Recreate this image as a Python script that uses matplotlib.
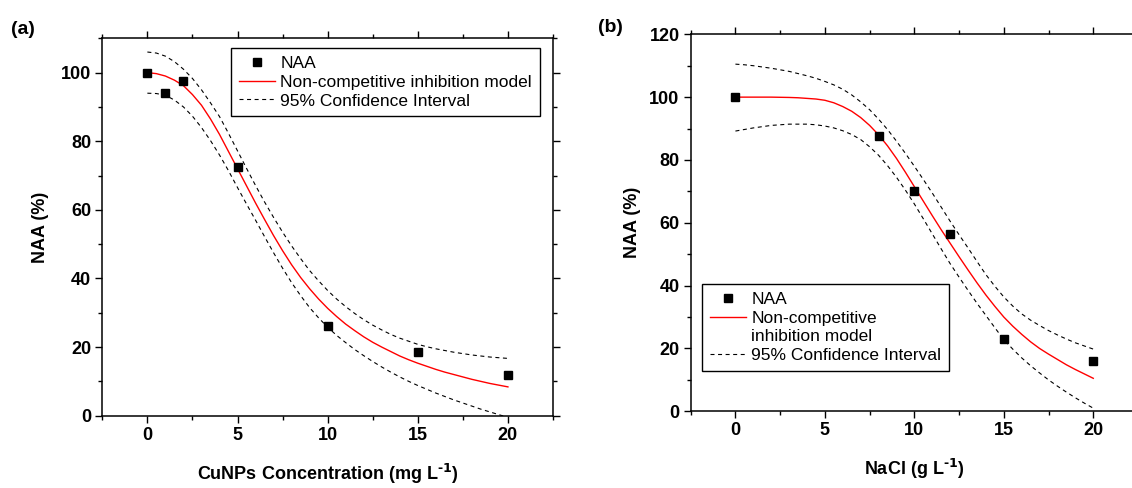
import matplotlib
matplotlib.use("Agg")
import matplotlib.pyplot as plt
from matplotlib.lines import Line2D
from matplotlib.ticker import MultipleLocator

plt.rcParams['font.family'] = ['Liberation Sans Narrow', 'Liberation Sans', 'DejaVu Sans']
plt.rcParams['font.weight'] = 'bold'
plt.rcParams['axes.labelweight'] = 'bold'
plt.rcParams['mathtext.default'] = 'regular'

# curves every 0.5 units
curve_x = [i * 0.5 for i in range(41)]

# (a) CuNPs
cu_conc = [0, 1, 2, 5, 10, 15, 20]
cu_naa = [100, 94, 97.5, 72.5, 26, 18.5, 12]
cu_fit = [100, 99.7, 99, 97.8, 96.2, 93.6, 90.5, 86.5, 82, 77, 72, 67, 62, 57.2, 52.5, 48.1,
          44, 40.3, 37, 34, 31.3, 28.9, 26.7, 24.8, 23, 21.4, 20, 18.7, 17.4, 16.3, 15.3,
          14.4, 13.5, 12.7, 12, 11.3, 10.6, 10, 9.4, 8.9, 8.4]
cu_upper = [106, 105.7, 104.8, 103.2, 101, 98.3, 95, 91.2, 87.2, 82.3, 77.2, 72.1, 67.1, 62.3,
            57.8, 53.5, 49.5, 45.8, 42.3, 39.3, 36.5, 34, 31.8, 29.8, 28, 26.4, 25, 23.7,
            22.6, 21.7, 20.8, 20.1, 19.5, 19, 18.5, 18.1, 17.7, 17.4, 17.1, 16.9, 16.7]
cu_lower = [94, 93.9, 93.4, 92, 90, 87.3, 84, 80.2, 76, 71.4, 66.5, 61.7, 57, 52.2, 47.5, 43,
            38.8, 35, 31.5, 28.5, 25.8, 23.4, 21.3, 19.3, 17.5, 15.8, 14.2, 12.7, 11.3, 10,
            8.8, 7.7, 6.6, 5.6, 4.6, 3.7, 2.8, 1.9, 1.1, 0.3, -0.5]

# (b) NaCl
na_conc = [0, 8, 10, 12, 15, 20]
na_naa = [100, 87.5, 70, 56.5, 23, 16]
na_fit = [100, 100, 100, 100, 100, 99.95, 99.9, 99.8, 99.6, 99.4, 99, 98.2, 97, 95.5, 93.5,
          91, 88, 84.5, 80.5, 76.1, 71.5, 66.9, 62.3, 57.8, 53.5, 49.2, 45, 40.9, 37, 33.4,
          30, 27.1, 24.5, 22.1, 20, 18.2, 16.5, 14.8, 13.3, 11.9, 10.5]
na_upper = [110.5, 110.3, 110, 109.6, 109.2, 108.7, 108.2, 107.5, 106.8, 106, 105, 103.9,
            102.5, 100.7, 98.5, 96, 93, 89.7, 86, 82.1, 78, 73.8, 69.5, 65, 60.5, 56.2, 52,
            47.7, 43.5, 39.8, 36.4, 33.5, 31, 29, 27.3, 25.7, 24.3, 23, 21.8, 20.8, 19.8]
na_lower = [89.2, 89.7, 90.2, 90.6, 91, 91.2, 91.4, 91.4, 91.4, 91.2, 90.8, 90.2, 89.3, 88.1,
            86.5, 84.2, 81.5, 78.2, 74.5, 70.4, 66, 61.3, 56.5, 51.7, 47, 42.7, 38.5, 34.4,
            30.5, 26.6, 22.8, 19.8, 17, 14.5, 12.2, 10, 8, 6.1, 4.3, 2.6, 1]

W, H = 1132, 488
fig = plt.figure(figsize=(W / 100, H / 100), dpi=100)
ax1 = fig.add_axes([102.3 / W, 1 - 415.7 / H, 450.7 / W, 377.4 / H])
ax2 = fig.add_axes([690.7 / W, 1 - 411.3 / H, 447.3 / W, 377.0 / H])

dash = (3.6, 3.2)


def draw(ax, cx, cy, fx, fit, up, lo):
    ax.plot(fx, up, color='black', lw=0.8, dashes=dash, zorder=2)
    h_ci, = ax.plot(fx, lo, color='black', lw=0.8, dashes=dash, zorder=2)
    h_fit, = ax.plot(fx, fit, color='red', lw=1.0, zorder=3)
    h_pts, = ax.plot(cx, cy, 's', color='black', ms=6, linestyle='none', zorder=4)
    return h_pts, h_fit, h_ci


def style(ax, ymax):
    ax.set_xlim(-2.5, 22.5)
    ax.set_ylim(0, ymax)
    ax.xaxis.set_major_locator(MultipleLocator(5))
    ax.xaxis.set_minor_locator(MultipleLocator(2.5))
    ax.yaxis.set_major_locator(MultipleLocator(20))
    ax.yaxis.set_minor_locator(MultipleLocator(10))
    ax.tick_params(which='both', direction='out', top=True, right=True, width=1.0)
    ax.tick_params(which='major', length=5, labelsize=13, pad=3)
    ax.tick_params(which='minor', length=3)
    for s in ax.spines.values():
        s.set_linewidth(1.1)


h1 = draw(ax1, cu_conc, cu_naa, curve_x, cu_fit, cu_upper, cu_lower)
h2 = draw(ax2, na_conc, na_naa, curve_x, na_fit, na_upper, na_lower)
style(ax1, 110)
style(ax2, 120)

ax1.set_xlabel(r'CuNPs Concentration (mg L$^{\text{-1}}$)', fontsize=13, va='baseline')
ax1.xaxis.set_label_coords(0.5, -0.1704)
ax1.set_ylabel('NAA (%)', fontsize=13, va='center')
ax1.yaxis.set_label_coords(-0.1382, 0.5)

ax2.set_xlabel(r'NaCl (g L$^{\text{-1}}$)', fontsize=13, va='baseline')
ax2.xaxis.set_label_coords(0.5, -0.169)
ax2.set_ylabel('NAA (%)', fontsize=13, va='center')
ax2.yaxis.set_label_coords(-0.1312, 0.5)

fig.text(11 / W, 1 - 29 / H, '(a)', fontsize=14, va='center', ha='left')
fig.text(598 / W, 1 - 28 / H, '(b)', fontsize=14, va='center', ha='left')

leg_kw = dict(loc='upper left', bbox_transform=fig.transFigure, borderaxespad=0,
              fancybox=False, edgecolor='black', framealpha=1, numpoints=1,
              prop={'weight': 'normal', 'size': 12.5}, handlelength=2.1,
              handletextpad=0.3, labelspacing=0.2, borderpad=0.45)

leg1 = ax1.legend(h1, ['NAA', 'Non-competitive inhibition model', '95% Confidence Interval'],
                  bbox_to_anchor=(231 / W, 1 - 48.3 / H), **leg_kw)
leg1.get_frame().set_linewidth(1.0)

blank = Line2D([], [], linestyle='none')
leg2 = ax2.legend([h2[0], h2[1], blank, h2[2]],
                  ['NAA', 'Non-competitive', 'inhibition model', '95% Confidence Interval'],
                  bbox_to_anchor=(702 / W, 1 - 284 / H), **leg_kw)
leg2.get_frame().set_linewidth(1.0)

fig.savefig('out.png', dpi=100)
